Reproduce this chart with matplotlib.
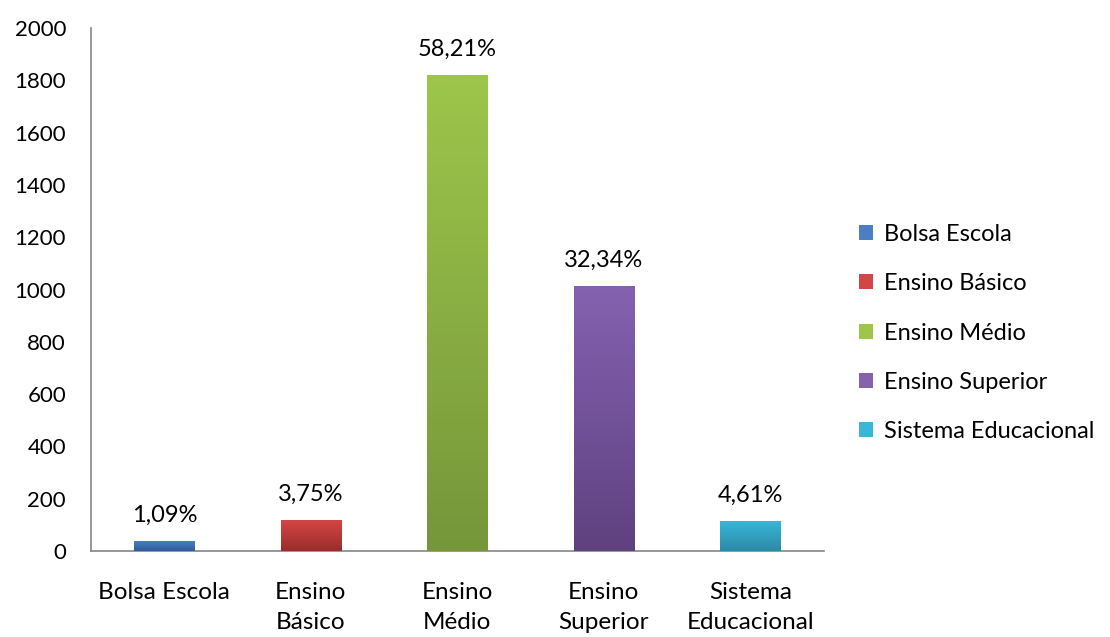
import numpy as np
import matplotlib.pyplot as plt
from matplotlib.patches import Patch
from matplotlib.colors import LinearSegmentedColormap

plt.rcParams['font.family'] = ['Lato', 'DejaVu Sans']

categories = ['Bolsa Escola', 'Ensino Básico', 'Ensino Médio', 'Ensino Superior', 'Sistema Educacional']
tick_labels = ['Bolsa Escola', 'Ensino\nBásico', 'Ensino\nMédio', 'Ensino\nSuperior', 'Sistema\nEducacional']
values = [38, 118, 1820, 1013, 114]
pct_labels = ['1,09%', '3,75%', '58,21%', '32,34%', '4,61%']
top_colors = ['#4a7fc4', '#d44545', '#9dc64b', '#8462b0', '#39b6d8']
bottom_colors = ['#2c5d98', '#9a2d2b', '#76963a', '#5f4180', '#2b8aa5']

fig = plt.figure(figsize=(11.1, 6.37), dpi=100)
ax = fig.add_axes([0.082, 0.135, 0.66, 0.821])

x = np.arange(len(categories))
bars = ax.bar(x, values, width=0.41, color=top_colors, zorder=2)

ax.set_xlim(-0.5, len(categories) - 0.5)
ax.set_ylim(0, 2000)

# gradient fill for every bar
grad = np.linspace(0, 1, 256).reshape(-1, 1)
for b, c1, c2 in zip(bars, top_colors, bottom_colors):
    cmap = LinearSegmentedColormap.from_list('g', [c2, c1])
    x0, y0 = b.get_x(), b.get_y()
    w, h = b.get_width(), b.get_height()
    im = ax.imshow(grad, cmap=cmap, aspect='auto', origin='lower',
                   extent=[x0, x0 + w, y0, y0 + h], zorder=3)
    im.set_clip_path(b)

for xi, v, lab in zip(x, values, pct_labels):
    ax.annotate(lab, (xi, v), xytext=(0, 11), textcoords='offset points',
                ha='center', va='bottom', fontsize=17)

ax.set_yticks(range(0, 2001, 200))
ax.set_xticks(x)
ax.set_xticklabels(tick_labels, fontsize=17.5, va='top', linespacing=1.55)
ax.tick_params(axis='y', labelsize=16, length=0, pad=18)
ax.tick_params(axis='x', length=0, pad=22)

for s in ['top', 'right']:
    ax.spines[s].set_visible(False)
for s in ['left', 'bottom']:
    ax.spines[s].set_color('#868686')
    ax.spines[s].set_linewidth(1.2)

handles = [Patch(facecolor=c, edgecolor='none') for c in top_colors]
fig.legend(handles, categories, loc='center left', bbox_to_anchor=(0.774, 0.477),
           frameon=False, fontsize=17, handlelength=0.6, handleheight=0.6,
           handletextpad=0.45, labelspacing=1.2, borderpad=0, borderaxespad=0)

fig.savefig('out.png', dpi=100)
